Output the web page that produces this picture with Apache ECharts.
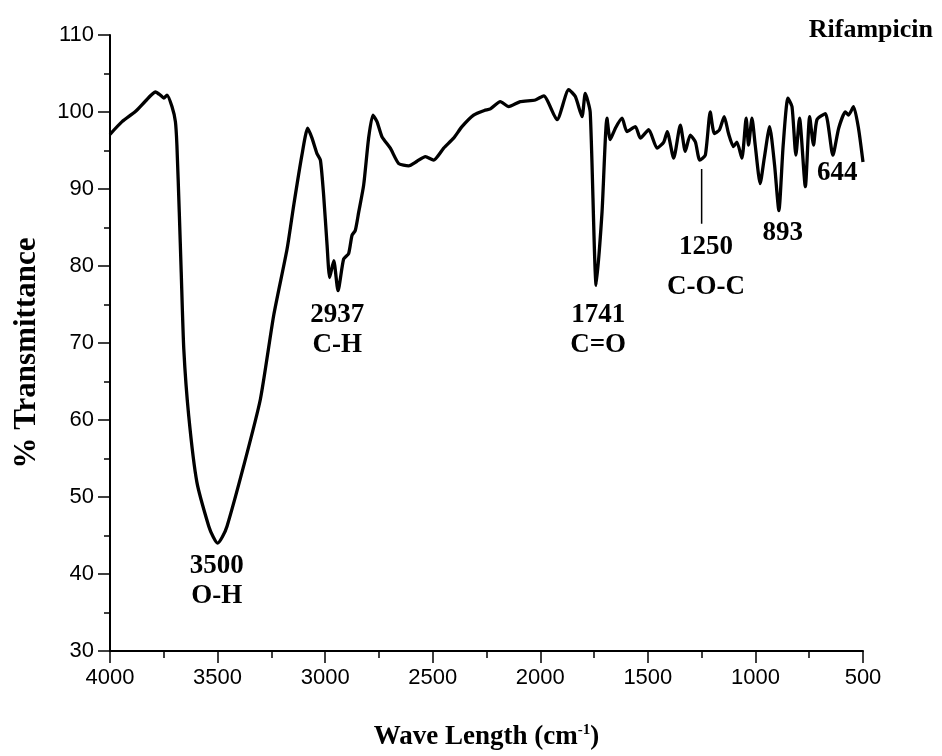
<!DOCTYPE html>
<html>
<head>
<meta charset="utf-8">
<script src="https://cdn.jsdelivr.net/npm/echarts@6/dist/echarts.min.js"></script>
<style>
html,body{margin:0;padding:0;background:#fff;}
#chart{width:942px;height:756px;}
</style>
</head>
<body>
<div id="chart"></div>
<script>
// Wavenumber (cm^-1) and % transmittance
var waveNumbers = [4000,3944,3882,3836,3789,3766,3750,3735,3712,3696,3689,3678,3669,3657,3634,3596,3541,3520,3500,3478,3456,3379,3301,3239,3177,3146,3108,3081,3061,3038,3022,3007,2991,2979,2960,2940,2914,2891,2875,2860,2844,2821,2798,2778,2759,2736,2697,2658,2612,2573,2534,2496,2449,2403,2364,2310,2260,2232,2186,2147,2093,2023,1984,1922,1868,1837,1806,1791,1768,1740,1713,1690,1675,1651,1620,1597,1558,1535,1496,1457,1426,1410,1380,1349,1326,1303,1279,1259,1233,1210,1191,1167,1145,1125,1102,1086,1063,1043,1032,1016,1001,978,959,934,911,891,871,849,830,812,795,768,748,730,714,675,640,613,582,567,544,521,500];
var transmittance = [97.1,98.75,100.06,101.4,102.6,102.2,101.8,102.2,100.7,98.75,95.7,87.0,79.2,69.2,60.5,51.9,46.2,44.8,44.0,44.8,46.2,54.0,62.7,73.6,82.2,87.9,94.4,97.9,96.6,94.6,93.75,89.2,82.7,78.5,80.7,76.8,80.9,81.6,84.0,84.6,87.0,90.5,96.6,99.6,98.75,96.8,95.3,93.3,93.0,93.6,94.2,93.75,95.3,96.6,98.1,99.6,100.2,100.4,101.35,100.7,101.35,101.56,102.1,99.0,102.9,102.0,99.4,102.4,100.0,77.5,87.0,99.2,96.4,97.9,99.2,97.45,98.1,96.6,97.7,95.3,96.1,97.45,94.0,98.3,94.9,97.0,96.1,93.75,94.4,100.0,97.2,97.7,99.4,97.2,95.5,96.1,94.0,99.2,95.7,99.2,95.7,90.7,94.0,98.1,93.1,87.2,95.7,101.8,100.7,94.4,99.2,90.3,99.4,95.7,99.0,99.8,94.4,97.9,100.0,99.6,100.7,97.9,93.5];

// Peak annotations (text anchored at wavenumber / transmittance)
var annoText = ['3500','O-H','2937','C-H','1741','C=O','1250','C-O-C','893','644'];
var annoX    = [3504, 3504, 2944, 2944, 1731, 1731, 1230, 1230, 873, 620];
var annoY    = [41.0, 37.1, 73.6, 69.8, 73.6, 69.8, 82.4, 77.3, 84.3, 92.1];

// Pointer line under the 1250 band
var pointerX = [1250, 1250];
var pointerY = [92.6, 85.5];

// Axis ticks
var xTicks = [4000,3500,3000,2500,2000,1500,1000,500];
var yTicks = [30,40,50,60,70,80,90,100,110];

var chart = echarts.init(document.getElementById('chart'), null, {renderer:'canvas'});
var serif = '"Liberation Serif","Times New Roman",serif';
var sans = '"Liberation Sans",Arial,sans-serif';

var lineData = waveNumbers.map(function(w,i){return [w, transmittance[i]];});
var annoData = annoText.map(function(t,i){return {value:[annoX[i], annoY[i]], text:t};});

chart.setOption({
  animation:false,
  backgroundColor:'#fff',
  title:{
    text:'Rifampicin', right:4, top:12,
    textStyle:{fontFamily:serif, fontWeight:'bold', fontSize:26, color:'#000'}
  },
  grid:{left:110, right:79, top:35, bottom:104, containLabel:false},
  xAxis:{
    type:'value', inverse:true,
    min:xTicks[xTicks.length-1], max:xTicks[0], interval:500,
    name:'Wave Length (cm{sup|-1})',
    nameLocation:'middle', nameGap:72,
    nameTextStyle:{fontFamily:serif, fontWeight:'bold', fontSize:27, color:'#000',
      rich:{sup:{fontFamily:serif, fontWeight:'bold', fontSize:15, color:'#000', verticalAlign:'top', padding:[0,0,14,0]}}},
    axisLine:{show:true, onZero:false, lineStyle:{color:'#000', width:2}},
    axisTick:{show:true, inside:false, length:12, lineStyle:{color:'#000', width:1.5}},
    minorTick:{show:true, splitNumber:2, length:7, lineStyle:{color:'#000', width:1.5}},
    axisLabel:{fontFamily:sans, fontSize:22, color:'#000', margin:16,
      formatter:function(v){return String(v);}},
    splitLine:{show:false}
  },
  yAxis:{
    type:'value', min:yTicks[0], max:yTicks[yTicks.length-1], interval:10,
    name:'% Transmittance', nameLocation:'middle', nameGap:68, nameRotate:90,
    nameTextStyle:{fontFamily:serif, fontWeight:'bold', fontSize:31, color:'#000', padding:[0,0,0,-20]},
    axisLine:{show:true, onZero:false, lineStyle:{color:'#000', width:2}},
    axisTick:{show:true, inside:false, length:12, lineStyle:{color:'#000', width:1.5}},
    minorTick:{show:true, splitNumber:2, length:6, lineStyle:{color:'#000', width:1.5}},
    axisLabel:{fontFamily:sans, fontSize:22, color:'#000', margin:16,
      formatter:function(v){return String(v);}},
    splitLine:{show:false}
  },
  series:[
    {
      type:'line', data:lineData, showSymbol:false, symbol:'none', smooth:0.2,
      lineStyle:{color:'#000', width:3.3}, z:3
    },
    {
      type:'line', data:pointerX.map(function(x,i){return [x, pointerY[i]];}),
      showSymbol:false, symbol:'none', lineStyle:{color:'#000', width:1.5}, z:2
    },
    {
      type:'scatter', data:annoData, symbolSize:0, z:4,
      itemStyle:{opacity:1},
      label:{show:true, position:[0,0], align:'center', verticalAlign:'middle',
        formatter:function(p){return p.data.text;},
        fontFamily:serif, fontWeight:'bold', fontSize:27, color:'#000', textBorderWidth:0, opacity:1}
    }
  ]
});
</script>
</body>
</html>
